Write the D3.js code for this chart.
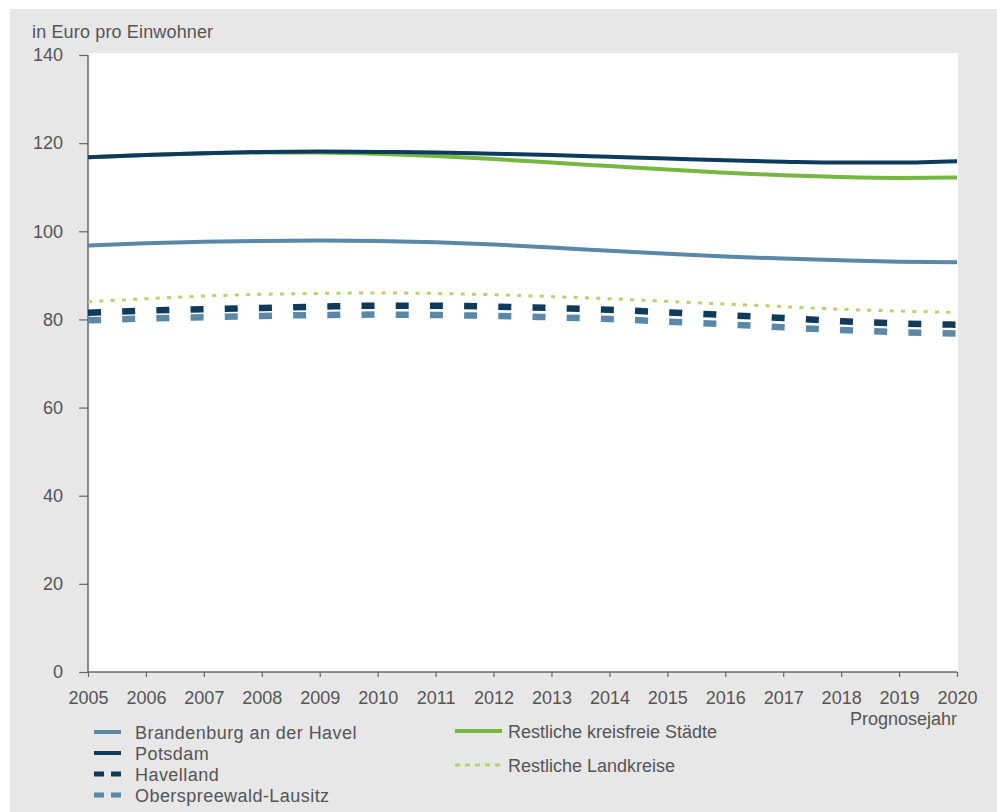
<!DOCTYPE html>
<html><head><meta charset="utf-8">
<script src="https://cdn.jsdelivr.net/npm/d3@7"></script>
<style>
html,body{margin:0;padding:0;background:#fff;}
svg{display:block;font-family:"Liberation Sans",Arial,sans-serif;}
</style></head>
<body>
<svg id="c" width="997" height="812"></svg>
<script>
const years = [2005,2006,2007,2008,2009,2010,2011,2012,2013,2014,2015,2016,2017,2018,2019,2020];
const yTicks = [0,20,40,60,80,100,120,140];
const brandenburg = [96.8,97.3,97.6,97.8,97.9,97.8,97.5,97.0,96.3,95.6,94.9,94.3,93.8,93.4,93.1,93.0];
const potsdam = [116.8,117.3,117.7,118.0,118.1,118.0,117.9,117.6,117.3,116.9,116.5,116.1,115.8,115.6,115.6,115.9];
const havelland = [81.5,82.0,82.3,82.6,82.9,83.1,83.1,82.9,82.6,82.2,81.6,81.0,80.3,79.6,79.1,78.8];
const osl = [79.8,80.2,80.5,80.8,81.0,81.1,81.0,80.8,80.5,80.1,79.5,78.9,78.2,77.6,77.1,76.8];
const kreisfrei = [116.8,117.3,117.7,117.9,117.9,117.6,117.1,116.4,115.6,114.8,114.0,113.3,112.7,112.3,112.1,112.2];
const landkreise = [84.0,84.7,85.3,85.7,85.9,86.0,85.9,85.6,85.2,84.7,84.1,83.5,82.9,82.3,81.9,81.6];

const seriesNames = ["Brandenburg an der Havel","Potsdam","Havelland","Oberspreewald-Lausitz","Restliche kreisfreie Städte","Restliche Landkreise"];

const svg = d3.select("#c");
const textCol = "#555";
// background panel
svg.append("rect").attr("x",10).attr("y",9).attr("width",987).attr("height",803).attr("fill","#e7e7e7");

const x = d3.scaleLinear().domain([2005,2020]).range([88,957]);
const y = d3.scaleLinear().domain([0,140]).range([672,55]);

svg.append("rect").attr("x",88).attr("y",53).attr("width",870).attr("height",619).attr("fill","#fff");

// axes
const yAxis = svg.append("g").attr("transform","translate(88,0)")
  .call(d3.axisLeft(y).tickValues(yTicks).tickSize(9).tickPadding(16).tickFormat(d3.format("d")));
const xAxis = svg.append("g").attr("transform","translate(0,672)")
  .call(d3.axisBottom(x).tickValues(years).tickSize(5).tickPadding(14).tickFormat(d3.format("d")));
[yAxis,xAxis].forEach(g=>{
  g.selectAll("path").attr("stroke","#666").attr("stroke-width",1.5);
  g.selectAll("line").attr("stroke","#666").attr("stroke-width",1.2);
  g.selectAll("text").attr("fill",textCol).style("font-size","18px").style("font-family","Liberation Sans, Arial, sans-serif");
});
xAxis.select(".domain").attr("d","M88,0H957");
yAxis.select(".domain").attr("d","M0,55V672");

svg.append("text").attr("x",32).attr("y",38).attr("fill",textCol).style("font-size","18px").style("letter-spacing","0.15px").text("in Euro pro Einwohner");
svg.append("text").attr("x",957).attr("y",725).attr("text-anchor","end").attr("fill",textCol).style("font-size","18px").text("Prognosejahr");

const line = d3.line().x((d,i)=>x(years[i])).y(d=>y(d)).curve(d3.curveMonotoneX);

const styles = [
  {data:brandenburg, color:"#5b87a9", w:4, dash:null},
  {data:potsdam, color:"#0e3a5c", w:4, dash:null},
  {data:havelland, color:"#0e3a5c", w:6.5, dash:"13,21.2"},
  {data:osl, color:"#5b87a9", w:6.5, dash:"13,21.2"},
  {data:kreisfrei, color:"#76b743", w:4, dash:null},
  {data:landkreise, color:"#b3d56c", w:3, dash:"4,7.3"}
];
const drawOrder = [3,2,5,0,4,1];
drawOrder.forEach(k=>{
  const s = styles[k];
  svg.append("path").datum(s.data).attr("d",line).attr("fill","none")
    .attr("stroke",s.color).attr("stroke-width",s.w)
    .attr("stroke-dasharray",s.dash);
});

// legend
const legLeft = [
  {k:0, y:732},{k:1, y:753},{k:2, y:774},{k:3, y:795}
];
legLeft.forEach(l=>{
  const s = styles[l.k];
  const ln = svg.append("line").attr("x1",94).attr("x2",121).attr("y1",l.y).attr("y2",l.y)
    .attr("stroke",s.color).attr("stroke-width", s.dash?5:4);
  if(s.dash) ln.attr("stroke-dasharray","10,7");
  svg.append("text").attr("x",135).attr("y",l.y+6.5).attr("fill",textCol).style("font-size","18px").style("letter-spacing","0.45px").text(seriesNames[l.k]);
});
const legRight = [{k:4,y:731},{k:5,y:765}];
legRight.forEach(l=>{
  const s = styles[l.k];
  const ln = svg.append("line").attr("x1",455).attr("x2",502).attr("y1",l.y).attr("y2",l.y)
    .attr("stroke",s.color).attr("stroke-width", s.w);
  if(s.dash) ln.attr("stroke-dasharray","5,5");
  svg.append("text").attr("x",508).attr("y",l.y+6.5).attr("fill",textCol).style("font-size","18px").text(seriesNames[l.k]);
});
</script>
</body></html>
